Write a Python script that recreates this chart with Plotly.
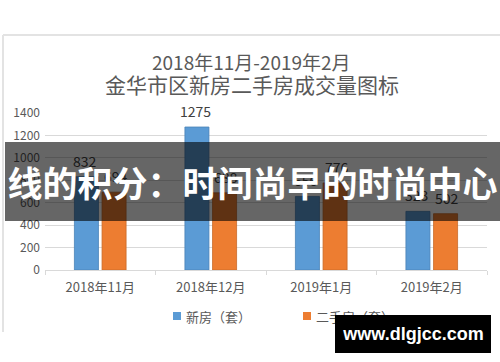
import plotly.graph_objects as go

categories = ["2018年11月", "2018年12月", "2019年1月", "2019年2月"]
new_homes = [832, 1275, 656, 523]
resale_homes = [694, 688, 776, 502]
series_names = ["新房（套）", "二手房（套）"]
y_ticks = [0, 200, 400, 600, 800, 1000, 1200, 1400]

title_line1 = "2018年11月-2019年2月"
title_line2 = "金华市区新房二手房成交量图标"
banner_text = "线的积分：时间尚早的时尚中心"
watermark_text = "www.dlgjcc.com"

W, H = 500, 362
ML, MR, MT, MB = 45, 13, 113, 92
PW = W - ML - MR
PH = H - MT - MB


def px(xpix):
    return (xpix - ML) / PW


def py(ypix):
    return (H - MB - ypix) / PH


FONT = "Noto Sans CJK SC"
BLUE = "#5b9bd5"
ORANGE = "#ed7d31"
COLORS = [BLUE, ORANGE]

fig = go.Figure()
fig.add_trace(go.Bar(x=categories, y=new_homes, name=series_names[0],
                     marker=dict(color=BLUE, line=dict(color="#4a83b8", width=0.8))))
fig.add_trace(go.Bar(x=categories, y=resale_homes, name=series_names[1],
                     marker=dict(color=ORANGE, line=dict(color="#c8692a", width=0.8))))

annotations = []
# data labels
for vals, shift in ((new_homes, -15.5), (resale_homes, 15.5)):
    for c, v in zip(categories, vals):
        annotations.append(dict(x=c, y=v, xref="x", yref="y", text=str(v), showarrow=False,
                                xshift=shift, yshift=16, yanchor="middle",
                                font=dict(family=FONT, size=14, color="#404040")))

# titles
annotations.append(dict(x=px(251), y=py(61), xref="paper", yref="paper", text=title_line1,
                        showarrow=False, xanchor="center", yanchor="middle",
                        font=dict(family=FONT, size=19, color="#595959")))
annotations.append(dict(x=px(252), y=py(84), xref="paper", yref="paper", text=title_line2,
                        showarrow=False, xanchor="center", yanchor="middle",
                        font=dict(family=FONT, size=21, color="#595959")))

shapes = [
    dict(type="line", xref="paper", yref="paper", x0=px(3), x1=px(500), y0=py(35), y1=py(35),
         line=dict(color="#e3e3e3", width=2), layer="below"),
    dict(type="line", xref="paper", yref="paper", x0=px(3), x1=px(3), y0=py(35), y1=py(332),
         line=dict(color="#e3e3e3", width=2), layer="below"),
]

# legend (drawn manually to match the reference spacing)
for name, color, sx in zip(series_names, COLORS, (177, 307)):
    shapes.append(dict(type="rect", xref="paper", yref="paper",
                       x0=px(sx - 4), x1=px(sx + 4), y0=py(312), y1=py(320),
                       fillcolor=color, line=dict(width=0)))
    annotations.append(dict(x=px(sx + 7), y=py(316), xref="paper", yref="paper", text=name,
                            showarrow=False, xanchor="left", yanchor="middle",
                            font=dict(family=FONT, size=13, color="#595959")))

# banner overlay
annotations.append(dict(x=px(5), y=py(142), xref="paper", yref="paper", text="<b>" + banner_text + "</b>",
                        showarrow=False, xanchor="left", yanchor="top", width=495, height=79,
                        bgcolor="rgba(0,0,0,0.6)", borderpad=0, borderwidth=0, align="center",
                        valign="middle", font=dict(family=FONT, size=35, color="white")))
# watermark
annotations.append(dict(x=px(335), y=py(315), xref="paper", yref="paper", text="<b>" + watermark_text + "</b>",
                        showarrow=False, xanchor="left", yanchor="top", width=156, height=38,
                        bgcolor="black", borderpad=0, borderwidth=0, align="center",
                        valign="middle", font=dict(family="Liberation Sans", size=18, color="white")))

fig.update_layout(
    width=W, height=H,
    margin=dict(l=ML, r=MR, t=MT, b=MB, autoexpand=False),
    paper_bgcolor="white", plot_bgcolor="white",
    barmode="group", bargap=0.5, bargroupgap=0.13,
    font=dict(family=FONT, color="#595959"),
    showlegend=False,
    annotations=annotations,
    shapes=shapes,
)
fig.update_xaxes(showline=True, linecolor="#d9d9d9", linewidth=1, ticks="outside",
                 tickson="boundaries", ticklen=4, tickcolor="#d9d9d9", ticklabelstandoff=5,
                 tickfont=dict(family=FONT, size=13, color="#595959"), showgrid=False)
fig.update_yaxes(range=[0, 1400], tickvals=y_ticks, showgrid=True, gridcolor="#d9d9d9",
                 zeroline=False, showline=False,
                 tickfont=dict(family=FONT, size=12, color="#595959"), ticklabelstandoff=4)

fig.write_html("out.html", config={"displayModeBar": False},
               post_script="document.body.style.margin='0';document.body.style.padding='0';")
